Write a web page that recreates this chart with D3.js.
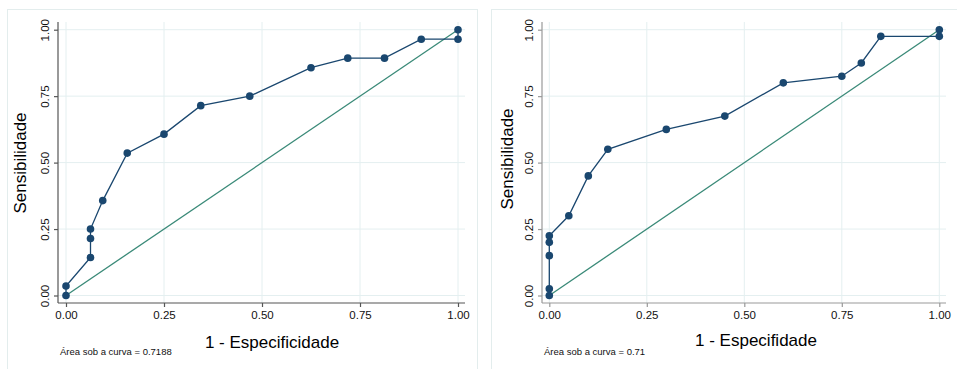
<!DOCTYPE html>
<html>
<head>
<meta charset="utf-8">
<script src="https://cdn.jsdelivr.net/npm/d3@7"></script>
<style>
  body { margin: 0; background: #fff; }
  svg { display: block; font-family: "Liberation Sans", Arial, Helvetica, sans-serif; }
</style>
</head>
<body>
<svg id="chart" width="957" height="369"></svg>
<script>
// ROC points, left panel (1 - especificidade, sensibilidade)
const leftFpr  = [0, 0, 0.0625, 0.0625, 0.0625, 0.09375, 0.15625, 0.25, 0.34375, 0.46875, 0.625, 0.71875, 0.8125, 0.90625, 1, 1]
const leftSens = [0, 0.0357, 0.1429, 0.2143, 0.25, 0.3571, 0.5357, 0.6071, 0.7143, 0.75, 0.8571, 0.8929, 0.8929, 0.9643, 0.9643, 1]

// ROC points, right panel
const rightFpr  = [0, 0, 0, 0, 0, 0.05, 0.10, 0.15, 0.30, 0.45, 0.60, 0.75, 0.80, 0.85, 1, 1]
const rightSens = [0, 0.025, 0.15, 0.20, 0.225, 0.30, 0.45, 0.55, 0.625, 0.675, 0.80, 0.825, 0.875, 0.975, 0.975, 1]

const tickValues = [0, 0.25, 0.5, 0.75, 1]
const tickLabels = ['0.00', '0.25', '0.50', '0.75', '1.00']

const svg = d3.select('#chart')
const lineColor = '#1a476f'
const diagColor = '#3a8a78'
const gridColor = '#e4eff0'

function drawPanel(p) {
    // panel frame
    svg.append('rect')
        .attr('x', p.box[0]).attr('y', p.box[1])
        .attr('width', p.box[2]).attr('height', p.box[3])
        .attr('fill', 'none').attr('stroke', '#e3eded')

    let x = d3.scaleLinear().domain([0, 1]).range([p.x0, p.x1])
    let y = d3.scaleLinear().domain([0, 1]).range([p.y0, p.y1])
    let g = svg.append('g')

    // grid
    g.selectAll('.vgrid').data(tickValues).enter().append('line')
        .attr('x1', d => x(d)).attr('x2', d => x(d))
        .attr('y1', p.top).attr('y2', p.bottom)
        .attr('stroke', gridColor).attr('stroke-width', 1)
    g.selectAll('.hgrid').data(tickValues).enter().append('line')
        .attr('x1', p.left).attr('x2', p.right)
        .attr('y1', d => y(d)).attr('y2', d => y(d))
        .attr('stroke', gridColor).attr('stroke-width', 1)

    // axes
    let xAxis = d3.axisBottom(x)
        .tickValues(tickValues)
        .tickFormat((d, i) => tickLabels[i])
        .tickSizeInner(4).tickSizeOuter(0).tickPadding(4)
    let yAxis = d3.axisLeft(y)
        .tickValues(tickValues)
        .tickFormat((d, i) => tickLabels[i])
        .tickSizeInner(4).tickSizeOuter(0).tickPadding(3)

    let ax = g.append('g').attr('transform', `translate(0, ${p.bottom})`).call(xAxis)
    ax.select('.domain').attr('d', `M${p.left},0H${p.right}`)
    ax.selectAll('text').attr('font-size', '11.5px').attr('fill', '#111')

    let ay = g.append('g').attr('transform', `translate(${p.left}, 0)`).call(yAxis)
    ay.select('.domain').attr('d', `M0,${p.top}V${p.bottom}`)
    // rotated y tick labels, like the original
    ay.selectAll('.tick text')
        .attr('font-size', '11.5px').attr('fill', '#111')
        .attr('text-anchor', 'middle')
        .attr('transform', 'rotate(-90)')
        .attr('x', 0).attr('dy', 0).attr('y', -8.7)
    ;[ax, ay].forEach(a => {
        a.selectAll('.domain, .tick line').attr('stroke', p.axisColor).attr('stroke-width', 1.2)
    })

    // reference diagonal
    g.append('path')
        .attr('d', d3.line().x(d => x(d)).y(d => y(d))([0, 1]))
        .attr('fill', 'none').attr('stroke', diagColor).attr('stroke-width', 1.3)

    // ROC curve
    let pts = p.fpr.map((v, i) => [v, p.sens[i]])
    g.append('path')
        .attr('d', d3.line().x(d => x(d[0])).y(d => y(d[1]))(pts))
        .attr('fill', 'none').attr('stroke', lineColor).attr('stroke-width', 1.3)
    g.selectAll('.marker').data(pts).enter().append('circle')
        .attr('cx', d => x(d[0])).attr('cy', d => y(d[1]))
        .attr('r', 3.8).attr('fill', lineColor)

    // titles
    g.append('text')
        .attr('transform', `translate(${p.yTitle[0]}, ${p.yTitle[1]}) rotate(-90)`)
        .attr('text-anchor', 'middle').attr('dy', '0.35em')
        .attr('font-size', '17px').attr('fill', '#000')
        .text('Sensibilidade')
    g.append('text')
        .attr('x', p.xTitle[0]).attr('y', p.xTitle[1])
        .attr('text-anchor', 'middle').attr('dy', '0.35em')
        .attr('font-size', '17px').attr('fill', '#000')
        .text(p.xLabel)
    g.append('text')
        .attr('x', p.note[0]).attr('y', p.note[1])
        .attr('dy', '0.35em')
        .attr('font-size', '9.5px').attr('fill', '#111')
        .text(p.noteText)
}

drawPanel({
    box: [7.5, 9.5, 470, 370],
    fpr: leftFpr, sens: leftSens,
    x0: 66, x1: 458, y0: 295.5, y1: 29.7,
    left: 58, right: 465, top: 22, bottom: 303,
    axisColor: '#555',
    yTitle: [20, 163], xTitle: [272, 342],
    xLabel: '1 - Especificidade',
    note: [60, 352], noteText: 'Área sob a curva = 0.7188'
})

drawPanel({
    box: [491.5, 9.5, 470, 370],
    fpr: rightFpr, sens: rightSens,
    x0: 549.3, x1: 939.3, y0: 295.5, y1: 29.7,
    left: 542, right: 946, top: 22, bottom: 303,
    axisColor: '#999',
    yTitle: [507, 159], xTitle: [756, 340],
    xLabel: '1 - Especifidade',
    note: [544, 352], noteText: 'Área sob a curva = 0.71'
})
</script>
</body>
</html>
